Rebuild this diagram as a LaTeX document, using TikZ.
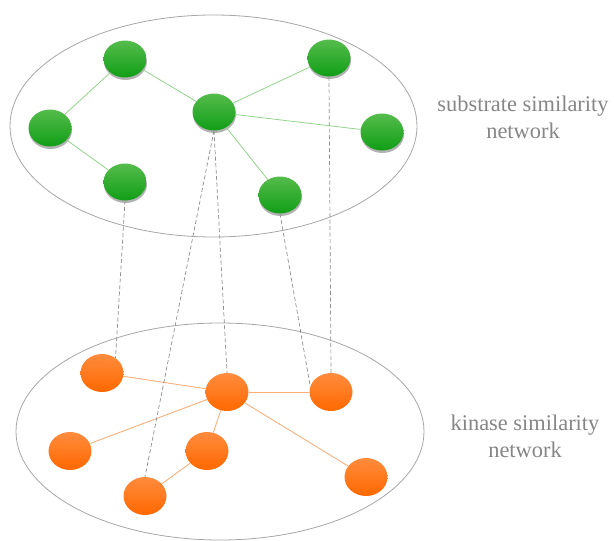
\documentclass[tikz,border=0pt]{standalone}
\usepackage{fontspec}
\setmainfont{Liberation Serif}
\usetikzlibrary{shapes.geometric,shadows}

\definecolor{frame}{HTML}{A6A6A6}
\definecolor{linkgray}{HTML}{8E8E8E}
\definecolor{labelgray}{HTML}{868686}
\definecolor{gtop}{HTML}{55BC4C}
\definecolor{gbot}{HTML}{109E16}
\definecolor{gedge}{HTML}{93D48C}
\definecolor{otop}{HTML}{FF8C3E}
\definecolor{obot}{HTML}{FF6800}
\definecolor{oedge}{HTML}{FBB07C}

\tikzset{
  netframe/.style={draw=frame, line width=0.8pt},
  gnode/.style={ellipse, minimum width=43pt, minimum height=37pt, inner sep=0pt,
    top color=gtop, bottom color=gbot,
    drop shadow={shadow xshift=0.5pt, shadow yshift=-2.5pt, opacity=0.3, fill=black}},
  onode/.style={ellipse, minimum width=43pt, minimum height=38pt, inner sep=0pt,
    top color=otop, bottom color=obot},
  gedge/.style={draw=gedge, line width=0.8pt},
  oedge/.style={draw=oedge, line width=0.9pt},
  xlink/.style={draw=linkgray, line width=0.7pt, dash pattern=on 4pt off 2.5pt},
  netlabel/.style={text=labelgray, font=\fontsize{22.4}{27}\selectfont, align=center}
}

\begin{document}
\begin{tikzpicture}[x=1pt,y=-1pt]
  \useasboundingbox (0,0) rectangle (614,541);

  % the two network frames
  \draw[netframe] (213.5,126) ellipse [x radius=203.5, y radius=111];
  \draw[netframe] (220,431.5) ellipse [x radius=204, y radius=108.5];

  % substrate network
  \node[gnode] (g1) at (125,59) {};
  \node[gnode] (g2) at (50,128) {};
  \node[gnode] (g3) at (125,182) {};
  \node[gnode] (g4) at (214,112) {};
  \node[gnode] (g5) at (329,58) {};
  \node[gnode] (g6) at (382,132) {};
  \node[gnode] (g7) at (280,195) {};

  % kinase network
  \node[onode] (o1) at (102,373) {};
  \node[onode] (o2) at (227,392) {};
  \node[onode] (o3) at (331,392) {};
  \node[onode] (o4) at (70,451) {};
  \node[onode] (o5) at (207,451) {};
  \node[onode] (o6) at (145,496) {};
  \node[onode] (o7) at (366,477) {};

  % substrate similarity edges
  \draw[gedge] (g1) -- (g2);
  \draw[gedge] (g1) -- (g4);
  \draw[gedge] (g2) -- (g3);
  \draw[gedge] (g4) -- (g5);
  \draw[gedge] (g4) -- (g6);
  \draw[gedge] (g4) -- (g7);

  % kinase similarity edges
  \draw[oedge] (o1) -- (o2);
  \draw[oedge] (o2) -- (o3);
  \draw[oedge] (o2) -- (o4);
  \draw[oedge] (o2) -- (o5);
  \draw[oedge] (o2) -- (o7);
  \draw[oedge] (o5) -- (o6);

  % substrate-kinase links
  \draw[xlink] (g3.south) -- (o1.48);
  \draw[xlink] (g4.south) -- (o6.north);
  \draw[xlink] (g4.south) -- (o2.north);
  \draw[xlink] (g7.south) -- (o3.165);
  \draw[xlink] (g5.south) -- (o3.north);

  % labels
  \node[netlabel] (lsub) at (523,117) {substrate similarity\\network};
  \node[netlabel] (lkin) at (525,436) {kinase similarity\\network};
\end{tikzpicture}
\end{document}
